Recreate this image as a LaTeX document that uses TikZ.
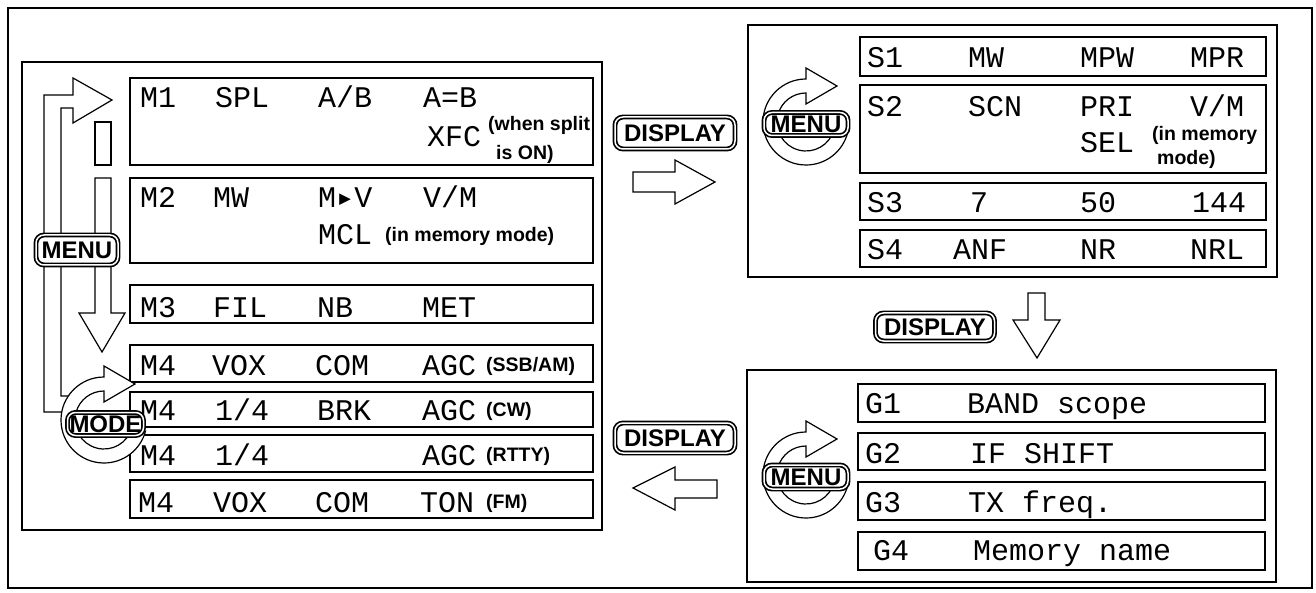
\documentclass[tikz,border=0pt]{standalone}
\usepackage{fontspec}
\setmainfont{Liberation Sans}
\newfontfamily\lcdfam{Liberation Mono}
\newfontfamily\symfam{DejaVu Sans Mono}
\usetikzlibrary{calc}
\tikzset{
  frame line/.style={draw=black, line width=1.8pt},
  panel/.style={draw=black, line width=2.2pt},
  lcd row/.style={draw=black, line width=1.2pt},
  lcd/.style={
    font=\lcdfam\fontsize{30}{30}\selectfont,
    anchor=base west, inner sep=0pt
  },
  lcd note/.style={
    font=\bfseries\fontsize{19.5}{19.5}\selectfont,
    anchor=base west, inner sep=0pt
  },
  key/.style={
    rectangle, rounded corners=8pt, draw=black, fill=white,
    double=white, double distance=1.5pt, line width=1.7pt,
    font=\bfseries\fontsize{24}{24}\selectfont, inner sep=0pt
  },
  block arrow/.style={
    draw=black, fill=white, line width=1.2pt, line join=miter
  },
  ring arrow/.pic={
    \draw[block arrow] (0,-43) arc[start angle=270, end angle=15, radius=43]
      -- (15:29) arc[start angle=15, end angle=270, radius=29]
      -- ++(0,11) -- ++(31,-18) -- ++(-31,-18) -- cycle;
  }
}

\begin{document}
\begin{tikzpicture}[x=1pt, y=-1pt]
\useasboundingbox (0,0) rectangle (1316,593);

% ====== OUTER FRAME ======
\draw[frame line] (8,8) rectangle (1312,588);

% ====== LEFT PANEL: M1 -- M4 ======
\draw[panel] (22,62) rectangle (602,530);
\draw[lcd row] (130,78) rectangle (593,165);
\draw[lcd row] (130,178) rectangle (593,263);
\draw[lcd row] (130,285) rectangle (593,323);
\draw[lcd row] (130,345) rectangle (593,382);
\draw[lcd row] (130,392) rectangle (593,427);
\draw[lcd row] (130,435) rectangle (593,472);
\draw[lcd row] (130,480) rectangle (593,518);

% -- M1 --
\node[lcd] (m1c1) at (140,108) {M1};
\node[lcd] (m1c2) at (215,108) {SPL};
\node[lcd] (m1c3) at (318,108) {A/B};
\node[lcd] (m1c4) at (423,108) {A=B};
\node[lcd] (m1xfc) at (427,147) {XFC};
\node[lcd note] (m1n1) at (488,131) {(when split};
\node[lcd note] (m1n2) at (496,160) {is ON)};

% -- M2 --
\node[lcd] (m2c1) at (140,208) {M2};
\node[lcd] (m2c2) at (213,208) {MW};
\node[lcd] (m2c3) at (318,208) {M{\symfam ▸}V};
\node[lcd] (m2c4) at (423,208) {V/M};
\node[lcd] (m2mcl) at (318,245) {MCL};
\node[lcd note] (m2n) at (385,242) {(in memory mode)};

% -- M3 --
\node[lcd] (m3c1) at (140,317) {M3};
\node[lcd] (m3c2) at (213,317) {FIL};
\node[lcd] (m3c3) at (317,317) {NB};
\node[lcd] (m3c4) at (422,317) {MET};

% -- M4 (one line per mode) --
\node[lcd] (m4ac1) at (140,375) {M4};
\node[lcd] (m4ac2) at (212,375) {VOX};
\node[lcd] (m4ac3) at (315,375) {COM};
\node[lcd] (m4ac4) at (422,375) {AGC};
\node[lcd note] (m4an) at (486,371) {(SSB/AM)};

\node[lcd] (m4bc1) at (140,420) {M4};
\node[lcd] (m4bc2) at (215,420) {1/4};
\node[lcd] (m4bc3) at (317,420) {BRK};
\node[lcd] (m4bc4) at (422,420) {AGC};
\node[lcd note] (m4bn) at (486,416) {(CW)};

\node[lcd] (m4cc1) at (140,465) {M4};
\node[lcd] (m4cc2) at (215,465) {1/4};
\node[lcd] (m4cc4) at (422,465) {AGC};
\node[lcd note] (m4cn) at (486,461) {(RTTY)};

\node[lcd] (m4dc1) at (138,512) {M4};
\node[lcd] (m4dc2) at (213,512) {VOX};
\node[lcd] (m4dc3) at (315,512) {COM};
\node[lcd] (m4dc4) at (420,512) {TON};
\node[lcd note] (m4dn) at (486,508) {(FM)};

% -- MENU loop and MODE --
\draw[block arrow] (75,412) -- (44,412) -- (44,95) -- (73,95) -- (73,78)
  -- (112,100) -- (73,123) -- (73,108) -- (61,108) -- (61,396) -- (85,396);
\draw[block arrow] (95,122) rectangle (111,165);
\draw[block arrow] (95,178) -- (111,178) -- (111,313) -- (125,313)
  -- (102,352) -- (79,313) -- (95,313) -- cycle;
\node[key, minimum width=82, minimum height=30] (menuL) at (77,250) {MENU};
\pic (modering) at (104,420) {ring arrow};
\node[key, minimum width=76, minimum height=23] (modekey) at (105.5,424) {MODE};

% ====== DISPLAY between panels ======
\node[key, minimum width=120, minimum height=32] (dispA) at (675,133) {DISPLAY};
\draw[block arrow] (633,172) -- (675,172) -- (675,160) -- (715,182)
  -- (675,204) -- (675,192) -- (633,192) -- cycle;
\node[key, minimum width=120, minimum height=30] (dispC) at (675,438) {DISPLAY};
\draw[block arrow] (717,480) -- (675,480) -- (675,467) -- (633,488)
  -- (675,510) -- (675,498) -- (717,498) -- cycle;

% ====== TOP RIGHT PANEL: S1 -- S4 ======
\draw[panel] (748,25) rectangle (1277,277);
\draw[lcd row] (860,37) rectangle (1266,76);
\draw[lcd row] (860,85) rectangle (1266,173);
\draw[lcd row] (860,183) rectangle (1266,220);
\draw[lcd row] (860,230) rectangle (1266,267);

\node[lcd] (s1c1) at (867,68) {S1};
\node[lcd] (s1c2) at (968,68) {MW};
\node[lcd] (s1c3) at (1080,68) {MPW};
\node[lcd] (s1c4) at (1190,68) {MPR};

\node[lcd] (s2c1) at (867,117) {S2};
\node[lcd] (s2c2) at (968,117) {SCN};
\node[lcd] (s2c3) at (1080,117) {PRI};
\node[lcd] (s2c4) at (1190,117) {V/M};
\node[lcd] (s2sel) at (1080,153) {SEL};
\node[lcd note] (s2n1) at (1152,141) {(in memory};
\node[lcd note] (s2n2) at (1157,165) {mode)};

\node[lcd] (s3c1) at (867,213) {S3};
\node[lcd] (s3c2) at (970,213) {7};
\node[lcd] (s3c3) at (1080,213) {50};
\node[lcd] (s3c4) at (1192,213) {144};

\node[lcd] (s4c1) at (867,260) {S4};
\node[lcd] (s4c2) at (953,260) {ANF};
\node[lcd] (s4c3) at (1080,260) {NR};
\node[lcd] (s4c4) at (1190,260) {NRL};

\pic (menuringT) at (806,122) {ring arrow};
\node[key, minimum width=84, minimum height=23] (menuT) at (806,124) {MENU};

% -- DISPLAY down --
\node[key, minimum width=119, minimum height=28] (dispB) at (935,327) {DISPLAY};
\draw[block arrow] (1028,293) -- (1045,293) -- (1045,320) -- (1060,320)
  -- (1037,358) -- (1013,320) -- (1028,320) -- cycle;

% ====== BOTTOM RIGHT PANEL: G1 -- G4 ======
\draw[panel] (747,370) rectangle (1276,582);
\draw[lcd row] (858,384) rectangle (1265,422);
\draw[lcd row] (858,433) rectangle (1265,470);
\draw[lcd row] (858,482) rectangle (1265,520);
\draw[lcd row] (858,532) rectangle (1265,570);

\node[lcd] (g1c1) at (865,413) {G1};
\node[lcd] (g1c2) at (967,413) {BAND scope};
\node[lcd] (g2c1) at (865,463) {G2};
\node[lcd] (g2c2) at (970,463) {IF SHIFT};
\node[lcd] (g3c1) at (865,512) {G3};
\node[lcd] (g3c2) at (968,512) {TX freq.};
\node[lcd] (g4c1) at (873,560) {G4};
\node[lcd] (g4c2) at (973,560) {Memory name};

\pic (menuringB) at (806,475) {ring arrow};
\node[key, minimum width=84, minimum height=24] (menuB) at (806,477) {MENU};

\end{tikzpicture}
\end{document}
